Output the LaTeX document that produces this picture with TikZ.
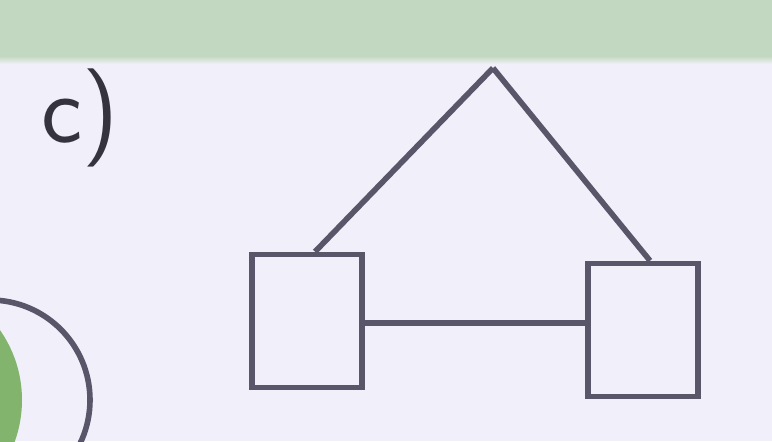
\documentclass[tikz,border=0pt]{standalone}
\usepackage{tikz}
\usetikzlibrary{positioning,calc}
\definecolor{paper}{RGB}{241,240,250}
\definecolor{band}{RGB}{194,216,192}
\definecolor{ink}{RGB}{88,86,104}
\definecolor{leaf}{RGB}{130,180,110}
\begin{document}
\begin{tikzpicture}[x=0.02cm,y=-0.02cm,font=\sffamily,
  box/.style={draw=ink,line width=3.2pt,minimum width=2.2cm,minimum height=2.66cm,inner sep=0pt},
  link/.style={draw=ink,line width=3.2pt}]
 \useasboundingbox (0,0) rectangle (772,441);
 \fill[paper] (0,0) rectangle (772,441);
 \fill[band] (0,0) rectangle (772,56);
 \shade[top color=band,bottom color=paper] (0,56) rectangle (772,64);
 % label
 \node[ink!60!black,font=\sffamily\fontsize{56}{56}\selectfont] (lbl) at (80,118){c)};
 % circle at the corner
 \begin{scope}
  \clip (-10,400) circle(100);
  \fill[leaf] (-100,400) circle(122);
 \end{scope}
 \draw[ink,line width=3.2pt] (-10,400) circle(100);
 % tree
 \coordinate (apex) at (493,68);
 \node[box] (boxL) at (307,321){};
 \node[box] (boxR) at (643,330){};
 \draw[link] (apex) -- ($(boxL.north)+(8,0)$);
 \draw[link] (apex) -- ($(boxR.north)+(7,0)$);
 \coordinate (midL) at ($(boxL.east)+(0,2)$);
 \draw[link] (midL) -- (midL -| boxR.west);
\end{tikzpicture}
\end{document}
